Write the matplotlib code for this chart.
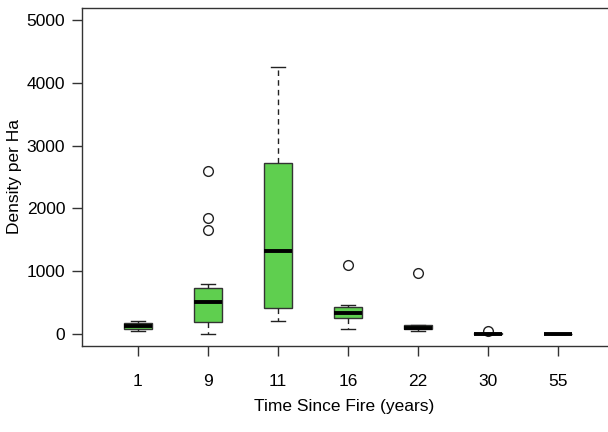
import matplotlib
matplotlib.use("Agg")
import matplotlib.pyplot as plt

plt.rcParams["font.family"] = ["Liberation Sans", "DejaVu Sans"]

# years since fire and box summary values
years = ["1", "9", "11", "16", "22", "30", "55"]
whisker_low = [53, 5, 207, 80, 53, 0, 0]
q1 = [85, 186, 414, 260, 74, 0, 0]
median = [133, 505, 1327, 340, 100, 5, 0]
q3 = [180, 727, 2718, 430, 148, 10, 0]
whisker_high = [201, 801, 4257, 457, 150, 10, 0]
outliers = [[], [2596, 1847, 1651], [], [1099], [971], [45], []]


def make_stats():
    stats = []
    for i, lab in enumerate(years):
        stats.append({
            "label": lab,
            "whislo": whisker_low[i],
            "q1": q1[i],
            "med": median[i],
            "q3": q3[i],
            "whishi": whisker_high[i],
            "fliers": outliers[i],
        })
    return stats


def main():
    fig = plt.figure(figsize=(6.08, 4.32), dpi=100)
    # the right edge of the plot box falls just outside the picture
    ax = fig.add_axes([82 / 608, 86 / 432, 532 / 608, 338 / 432])

    ax.bxp(
        make_stats(),
        positions=range(1, len(years) + 1),
        widths=0.4,
        patch_artist=True,
        boxprops=dict(facecolor="#5fcf4f", edgecolor="#333333", linewidth=1),
        medianprops=dict(color="black", linewidth=2.8, solid_capstyle="butt"),
        whiskerprops=dict(color="#222222", linestyle=(0, (4, 3)), linewidth=1),
        capprops=dict(color="#222222", linewidth=1),
        capwidths=0.2,
        flierprops=dict(marker="o", markerfacecolor="none", markeredgecolor="#222222",
                        markersize=7, markeredgewidth=1),
    )

    ax.set_xlim(0.2, 0.2 + 532 / 70)
    ax.set_ylim(-190, 5190)
    ax.set_yticks([0, 1000, 2000, 3000, 4000, 5000])
    ax.tick_params(axis="both", direction="out", length=7, width=1, labelsize=12.5,
                   color="#333333", pad=5)
    ax.tick_params(axis="x", pad=13)
    for s in ax.spines.values():
        s.set_linewidth(1)
        s.set_color("#333333")

    ax.set_xlabel("Time Since Fire (years)", fontsize=12.5)
    ax.set_ylabel("Density per Ha", fontsize=12.5)
    ax.xaxis.set_label_coords(262 / 532, -0.178)
    ax.yaxis.set_label_coords(-67 / 532, 0.5)
    ax.xaxis.label.set_va("center")
    ax.yaxis.label.set_va("center")

    fig.savefig("out.png", dpi=100)


if __name__ == "__main__":
    main()
